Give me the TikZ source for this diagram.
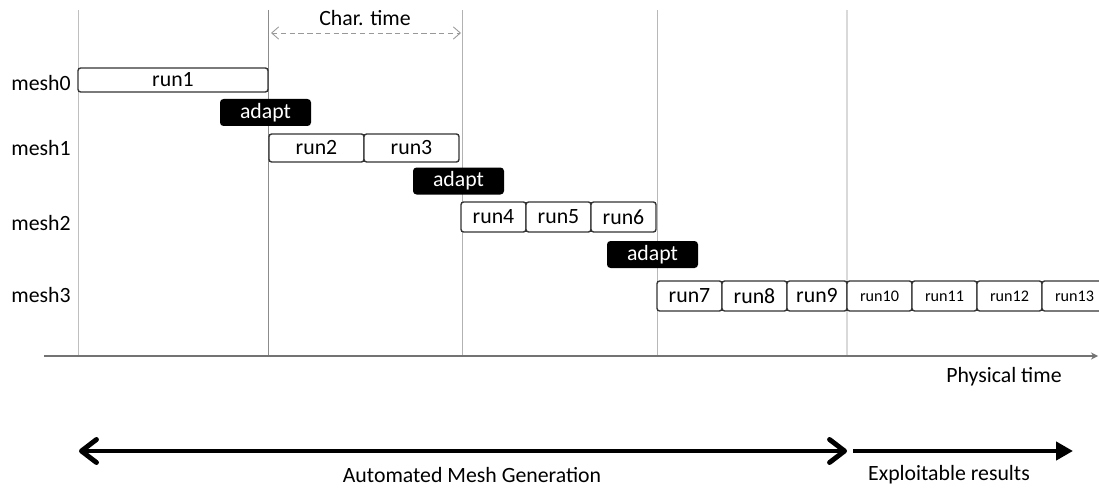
\documentclass[tikz,border=0pt]{standalone}
\usepackage{fontspec}
\setmainfont{Carlito}
\usetikzlibrary{arrows.meta,positioning}
\tikzset{
  runbox/.style={draw=black!80, fill=white, line width=0.8pt, rounded corners=1.5pt,
    inner sep=0pt, outer sep=0pt, minimum height=0.56cm},
  smallrun/.style={runbox, font=\fontsize{9.2}{11}\selectfont},
  adaptbox/.style={fill=black, text=white, rounded corners=2pt, inner sep=0pt,
    minimum width=1.82cm, minimum height=0.54cm},
  meshlabel/.style={anchor=east, inner sep=0pt},
  gridline/.style={line width=0.5pt}
}
\begin{document}
\begin{tikzpicture}[font=\fontsize{12.4}{14}\selectfont]
    \useasboundingbox (0,0) rectangle (21.98,9.78);
    % time grid
    \draw[gridline, black!25] (1.56,9.58) -- (1.56,2.66);
    \draw[gridline, black!45] (5.36,9.58) -- (5.36,2.66);
    \draw[gridline, black!30] (9.24,9.58) -- (9.24,2.66);
    \draw[gridline, black!28] (13.14,9.58) -- (13.14,2.66);
    \draw[gridline, black!15, line width=0.9pt] (16.94,9.58) -- (16.94,2.66);
    % physical time axis
    \coordinate (t0) at (0.88,2.66);
    \coordinate (t1) at (21.96,2.66);
    \draw[black!55, line width=0.9pt, -{Stealth[length=4pt,width=4pt]}] (t0) -- (t1);
    \node (phys) at (20.08,2.24) {Physical time};
    % characteristic time
    \coordinate (c0) at (5.42,9.12);
    \coordinate (c1) at (9.22,9.12);
    \draw[black!40, densely dashed, line width=0.5pt,
      {Straight Barb[length=4pt,width=7pt]}-{Straight Barb[length=4pt,width=7pt]}] (c0) -- (c1);
    \node (char) at (7.30,9.42) {Char. time};
    % mesh0
    \node[meshlabel] (mesh0) at (1.42,8.12) {mesh0};
    \node[runbox, minimum width=3.8cm, minimum height=0.48cm, anchor=west] (run1) at (1.56,8.18) {run1};
    \node[adaptbox] (adapt1) at (5.31,7.53) {adapt};
    % mesh1
    \node[meshlabel] (mesh1) at (1.42,6.82) {mesh1};
    \node[runbox, minimum width=1.9cm, anchor=west] (run2) at (5.38,6.82) {run2};
    \node[runbox, minimum width=1.9cm, right=0pt of run2] (run3) {run3};
    \node[adaptbox] (adapt2) at (9.17,6.16) {adapt};
    % mesh2
    \node[meshlabel] (mesh2) at (1.42,5.32) {mesh2};
    \node[runbox, minimum width=1.3cm, minimum height=0.6cm, anchor=west] (run4) at (9.22,5.44) {run4};
    \node[runbox, minimum width=1.3cm, minimum height=0.6cm, right=0pt of run4] (run5) {run5};
    \node[runbox, minimum width=1.3cm, minimum height=0.6cm, right=0pt of run5] (run6) {run6};
    \node[adaptbox] (adapt3) at (13.05,4.69) {adapt};
    % mesh3
    \node[meshlabel] (mesh3) at (1.42,3.88) {mesh3};
    \node[runbox, minimum width=1.3cm, minimum height=0.6cm, anchor=west] (run7) at (13.14,3.86) {run7};
    \node[runbox, minimum width=1.3cm, minimum height=0.6cm, right=0pt of run7] (run8) {run8};
    \node[runbox, minimum width=1.2cm, minimum height=0.6cm, right=0pt of run8] (run9) {run9};
    \foreach \i [remember=\i as \j (initially 9)] in {10,...,13}
      \node[smallrun, minimum width=1.3cm, minimum height=0.6cm, right=0pt of run\j] (run\i) {run\i};
    % phases
    \coordinate (a0) at (1.58,0.76);
    \coordinate (a1) at (16.94,0.76);
    \coordinate (b0) at (17.06,0.76);
    \coordinate (b1) at (21.46,0.76);
    \draw[line width=2.8pt, {Straight Barb[length=0.3cm,width=0.46cm,round]}-{Straight Barb[length=0.3cm,width=0.46cm,round]}] (a0) -- (a1);
    \draw[line width=2.8pt, -{Triangle[length=0.34cm,width=0.36cm]}] (b0) -- (b1);
    \node (amg) at (9.44,0.28) {Automated Mesh Generation};
    \node (expl) at (18.98,0.28) {Exploitable results};
\end{tikzpicture}
\end{document}
